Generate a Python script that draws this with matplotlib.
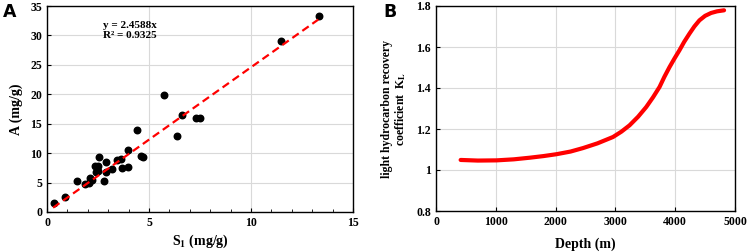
#!/usr/bin/env python3
from matplotlib import pyplot as plt
from matplotlib.ticker import MultipleLocator

# panel A: S1 vs A
s1 = [0.32, 0.86, 1.49, 1.85, 2.05, 2.12, 2.22, 2.36, 2.52, 2.39, 2.49, 2.57,
      2.77, 2.90, 2.88, 3.17, 3.42, 3.63, 3.68, 3.97, 3.97, 4.43, 4.59, 4.69,
      5.73, 6.35, 6.62, 7.29, 7.52, 11.48, 13.32]
a_val = [1.45, 2.5, 5.25, 4.8, 4.85, 5.75, 5.5, 7.75, 7.75, 6.75, 6.9, 9.35,
         5.2, 8.55, 6.85, 7.3, 8.85, 9.0, 7.5, 10.45, 7.6, 13.9, 9.5, 9.4,
         19.9, 12.85, 16.4, 16.0, 16.0, 29.0, 33.3]
slope = 2.4588
fit_x = [0.3, 13.3]

# panel B: depth vs recovery coefficient
depth = [412, 700, 1012, 1300, 1569, 1800, 2014, 2250, 2459, 2700, 2960,
         3100, 3237, 3380, 3515, 3630, 3738, 3820, 3905, 3990, 4071, 4150,
         4238, 4320, 4405, 4500, 4600, 4700, 4817]
kl = [1.049, 1.046, 1.047, 1.052, 1.060, 1.068, 1.077, 1.090, 1.107, 1.130,
      1.161, 1.187, 1.218, 1.260, 1.307, 1.355, 1.405, 1.455, 1.502, 1.545,
      1.584, 1.625, 1.665, 1.700, 1.730, 1.752, 1.766, 1.774, 1.779]

plt.rcParams['font.family'] = ['Liberation Serif', 'DejaVu Serif']
plt.rcParams['font.weight'] = 'bold'
plt.rcParams['axes.labelweight'] = 'bold'
plt.rcParams['mathtext.fontset'] = 'stix'

fig = plt.figure(figsize=(7.47, 2.52), dpi=100)
W, H = 747, 252
ax1 = fig.add_axes([47/W, 1-212/H, (353-47)/W, (212-6)/H])
ax2 = fig.add_axes([436/W, 1-211/H, (735-436)/W, (211-6)/H])

grid_kw = dict(color='#d9d9d9', linewidth=0.8)

# A
ax1.grid(True, **grid_kw)
ax1.set_axisbelow(True)
ax1.scatter(s1, a_val, s=22, color='black', zorder=3)
ax1.plot(fit_x, [slope*v for v in fit_x], color='#ff0000', linestyle=(0, (3.5, 2)),
         linewidth=1.6, zorder=4)
ax1.set_xlim(0, 15)
ax1.set_ylim(0, 35)
ax1.xaxis.set_major_locator(MultipleLocator(5))
ax1.xaxis.set_minor_locator(MultipleLocator(1))
ax1.yaxis.set_major_locator(MultipleLocator(5))
ax1.tick_params(which='both', direction='in', labelsize=8.5)
ax1.tick_params(which='major', length=3)
ax1.tick_params(which='minor', length=2)
ax1.set_xlabel('S$_\\mathbf{1}$ (mg/g)', fontsize=10, labelpad=3)
ax1.set_ylabel('A (mg/g)', fontsize=10, labelpad=5)
ax1.text(2.75, 30.9, 'y = 2.4588x\nR² = 0.9325', fontsize=8, va='center',
         linespacing=1.15)

# B
ax2.grid(True, **grid_kw)
ax2.set_axisbelow(True)
ax2.plot(depth, kl, color='#ff0000', linewidth=3, solid_capstyle='round',
         solid_joinstyle='round')
ax2.set_xlim(0, 5000)
ax2.set_ylim(0.8, 1.8)
ax2.xaxis.set_major_locator(MultipleLocator(1000))
ax2.set_yticks([0.8, 1.0, 1.2, 1.4, 1.6, 1.8])
ax2.set_yticklabels(['0.8', '1', '1.2', '1.4', '1.6', '1.8'])
ax2.tick_params(direction='in', labelsize=8.5, length=3)
ax2.set_xlabel('Depth (m)', fontsize=10, labelpad=7)
ax2.set_ylabel('light hydrocarbon recovery\ncoefficient  K$_\\mathbf{L}$',
               fontsize=8.5, labelpad=6, linespacing=1.0)

for ax in (ax1, ax2):
    for sp in ax.spines.values():
        sp.set_linewidth(1.0)

fig.text(3/W, 1-3/H, 'A', fontsize=12.5, fontweight='bold', family='DejaVu Sans',
         va='top', ha='left')
fig.text(383/W, 1-3/H, 'B', fontsize=12.5, fontweight='bold', family='DejaVu Sans',
         va='top', ha='left')

fig.savefig('out.png', dpi=100)
